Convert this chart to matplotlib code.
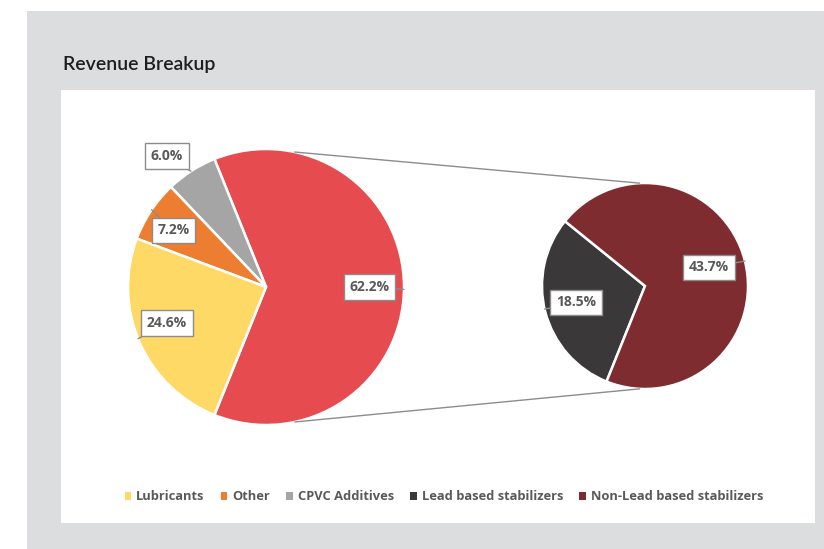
import numpy as np
import matplotlib.pyplot as plt
from matplotlib.patches import Rectangle, ConnectionPatch, Patch

# main pie (the big slice is the sum of the two stabilizer groups)
main_labels = ['Stabilizers', 'CPVC Additives', 'Other', 'Lubricants']
main_values = [62.2, 6.0, 7.2, 24.6]
main_colors = ['#e64b50', '#a5a5a5', '#ed7d31', '#ffd966']

# secondary pie
sub_labels = ['Lead based stabilizers', 'Non-Lead based stabilizers']
sub_values = [18.5, 43.7]
sub_colors = ['#3a3838', '#7f2c31']

legend_labels = ['Lubricants', 'Other', 'CPVC Additives',
                 'Lead based stabilizers', 'Non-Lead based stabilizers']
legend_colors = ['#ffd966', '#ed7d31', '#a5a5a5', '#3a3838', '#7f2c31']

# label positions (data units, pie radius = 1) and callout pointer angles
main_label_pos = [(0.75, 0.0), (-0.72, 0.95), (-0.67, 0.41), (-0.72, -0.26)]
main_pointer_ang = [-1, 123, 146, 202]
sub_label_pos = [(-0.67, -0.16), (0.62, 0.18)]
sub_pointer_ang = [193, 14]

W, H = 824, 549
fig = plt.figure(figsize=(W / 100, H / 100), dpi=100)
fig.patch.set_facecolor('white')

# gray card and white chart area
fig.add_artist(Rectangle((27 / W, 0), 1, 1 - 11 / H, transform=fig.transFigure,
                         facecolor='#dcdddf', edgecolor='none', zorder=-2))
fig.add_artist(Rectangle((61 / W, 1 - 523 / H), (815 - 61) / W, (523 - 90) / H,
                         transform=fig.transFigure, facecolor='white',
                         edgecolor='none', zorder=-1))
fig.text(63 / W, 1 - 64 / H, 'Revenue Breakup', fontsize=14, fontweight='semibold',
         family='Lato', color='#1e1e1e', va='center', ha='left')


def add_pie_axes(cx, cy, r, lim=1.3):
    side = 2 * lim * r
    ax = fig.add_axes([(cx - side / 2) / W, (H - cy - side / 2) / H, side / W, side / H])
    return ax


def finish(ax, lim=1.3):
    ax.set_xlim(-lim, lim)
    ax.set_ylim(-lim, lim)
    ax.set_aspect('equal')
    ax.axis('off')


def add_labels(ax, values, positions, angles):
    box = dict(boxstyle='square,pad=0.42', facecolor='white', edgecolor='#8c8c8c', linewidth=1)
    for v, (x, y), a in zip(values, positions, angles):
        tip = (np.cos(np.radians(a)), np.sin(np.radians(a)))
        ax.annotate(f'{v:.1f}%', xy=tip, xytext=(x, y), ha='center', va='center',
                    fontsize=10, fontweight='bold', color='#595959', family='Open Sans',
                    bbox=box,
                    arrowprops=dict(arrowstyle='-', color='#8c8c8c', lw=1,
                                    shrinkA=0, shrinkB=0))


ax1 = add_pie_axes(266, 287, 138)
ax2 = add_pie_axes(645, 286, 103)

ax1.pie(main_values, colors=main_colors, startangle=-main_values[0] * 1.8,
        counterclock=True, radius=1,
        wedgeprops=dict(edgecolor='white', linewidth=1.8))
ax2.pie(sub_values, colors=sub_colors, startangle=141, counterclock=True, radius=1,
        wedgeprops=dict(edgecolor='white', linewidth=1.8))
finish(ax1)
finish(ax2)

add_labels(ax1, main_values, main_label_pos, main_pointer_ang)
add_labels(ax2, sub_values, sub_label_pos, sub_pointer_ang)

# connector lines from the main pie to the secondary pie
for a1, a2 in [(78, 93), (-78, -93)]:
    p1 = (np.cos(np.radians(a1)), np.sin(np.radians(a1)))
    p2 = (np.cos(np.radians(a2)), np.sin(np.radians(a2)))
    con = ConnectionPatch(xyA=p1, coordsA=ax1.transData, xyB=p2, coordsB=ax2.transData,
                          color='#8c8c8c', linewidth=1)
    fig.add_artist(con)

handles = [Patch(facecolor=c, edgecolor='none') for c in legend_colors]
leg = fig.legend(handles, legend_labels, loc='center', bbox_to_anchor=(444 / W, 1 - 497 / H),
                 ncol=5, frameon=False, handlelength=0.5, handleheight=0.5,
                 handletextpad=0.4, columnspacing=1.25,
                 prop=dict(family='Open Sans', size=9.3, weight='bold'))
for t in leg.get_texts():
    t.set_color('#595959')

fig.savefig('out.png', dpi=100)
